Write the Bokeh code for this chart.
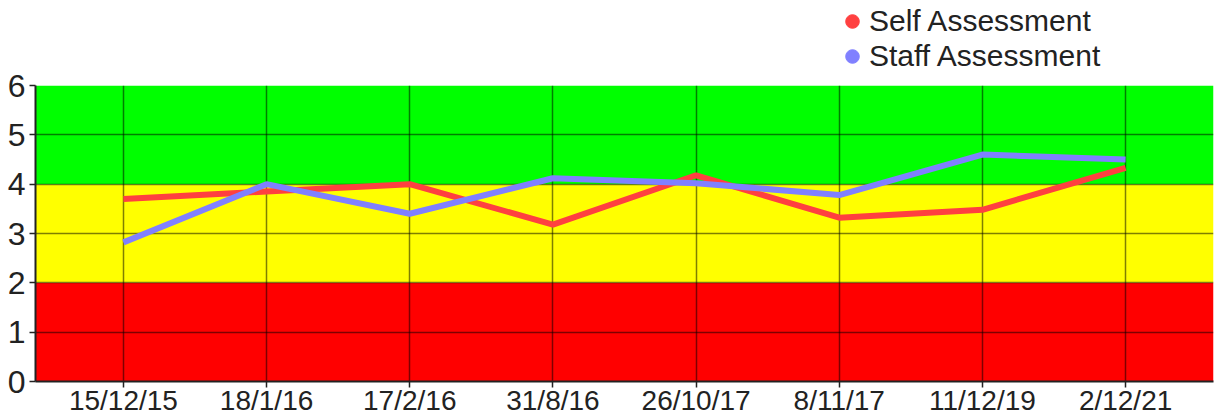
from bokeh.plotting import figure
from bokeh.layouts import column
from bokeh.models import (FactorRange, Range1d, BoxAnnotation, Legend, LegendItem,
                          ColumnDataSource, FixedTicker)
from bokeh.embed import file_html
from bokeh.resources import INLINE

dates = ["15/12/15", "18/1/16", "17/2/16", "31/8/16", "26/10/17", "8/11/17", "11/12/19", "2/12/21"]
self_scores = [3.7, 3.85, 4.0, 3.18, 4.18, 3.32, 3.48, 4.33]
staff_scores = [2.82, 4.0, 3.4, 4.12, 4.02, 3.78, 4.6, 4.5]

band_limits = [0, 2, 4, 6]
band_colors = ["#ff0000", "#ffff00", "#00ff00"]

SELF_COLOR = "#ff4040"
STAFF_COLOR = "#8080ff"
FONT = "Liberation Sans"

# ---- legend strip (top) ----
top = figure(width=1217, height=73, output_backend="svg", toolbar_location=None,
             x_axis_type=None, y_axis_type=None, x_range=Range1d(0, 1), y_range=Range1d(0, 1),
             min_border=0)
top.outline_line_color = None
top.grid.visible = False

# legend proxies: one point per series, placed outside the strip's visible range
proxy = ColumnDataSource(dict(x=[self_scores[0]], y=[staff_scores[0]]))
r_self = top.scatter("x", "y", source=proxy, marker="circle", size=14,
                     fill_color=SELF_COLOR, line_color=SELF_COLOR)
r_staff = top.scatter("x", "y", source=proxy, marker="circle", size=14,
                      fill_color=STAFF_COLOR, line_color=STAFF_COLOR)
legend = Legend(items=[LegendItem(label="Self Assessment", renderers=[r_self]),
                       LegendItem(label="Staff Assessment", renderers=[r_staff])],
                location=(800, 0), orientation="vertical",
                label_text_font=FONT, label_text_font_size="30px", label_text_color="#222222",
                glyph_width=34, glyph_height=34, label_standoff=-6, spacing=1,
                padding=0, margin=0, border_line_color=None, background_fill_alpha=0)
top.add_layout(legend, "center")

# ---- main chart ----
p = figure(width=1217, height=357, output_backend="svg", toolbar_location=None,
           x_range=FactorRange(factors=dates, range_padding=0.114, range_padding_units="absolute"),
           y_range=Range1d(band_limits[0], band_limits[-1]),
           min_border_left=35, min_border_right=4, min_border_top=24, min_border_bottom=35)
p.margin = (-12, 0, 0, 0)
p.outline_line_color = None
p.border_fill_alpha = 0
p.background_fill_color = "white"

for lo, hi, c in zip(band_limits[:-1], band_limits[1:], band_colors):
    p.add_layout(BoxAnnotation(bottom=lo, top=hi, fill_color=c, fill_alpha=1.0,
                               line_color=None, level="image"))

p.xgrid.grid_line_color = "black"
p.xgrid.grid_line_alpha = 0.5
p.xgrid.grid_line_width = 1.5
p.ygrid.grid_line_color = "black"
p.ygrid.grid_line_alpha = 0.5
p.ygrid.grid_line_width = 1.5
p.ygrid.ticker = FixedTicker(ticks=list(range(0, 7)))
p.yaxis.ticker = FixedTicker(ticks=list(range(0, 7)))

src = ColumnDataSource(dict(date=dates, self_s=self_scores, staff_s=staff_scores))
p.line("date", "self_s", source=src, line_color=SELF_COLOR, line_width=6)
p.line("date", "staff_s", source=src, line_color=STAFF_COLOR, line_width=6)

for ax in (p.xaxis, p.yaxis):
    ax.axis_line_color = "#222222"
    ax.axis_line_width = 2
    ax.major_tick_line_color = "#222222"
    ax.major_tick_line_width = 1.5
    ax.minor_tick_line_color = None
    ax.major_label_text_font = FONT
    ax.major_label_text_color = "#222222"

p.xaxis.major_tick_out = 6
p.xaxis.major_tick_in = 0
p.xaxis.major_label_text_font_size = "28px"
p.xaxis.major_label_standoff = -3
p.yaxis.major_tick_out = 6
p.yaxis.major_tick_in = 0
p.yaxis.major_label_text_font_size = "32px"
p.yaxis.major_label_standoff = 4

layout = column(top, p, spacing=0)
open("out.html", "w").write(file_html(layout, INLINE))
